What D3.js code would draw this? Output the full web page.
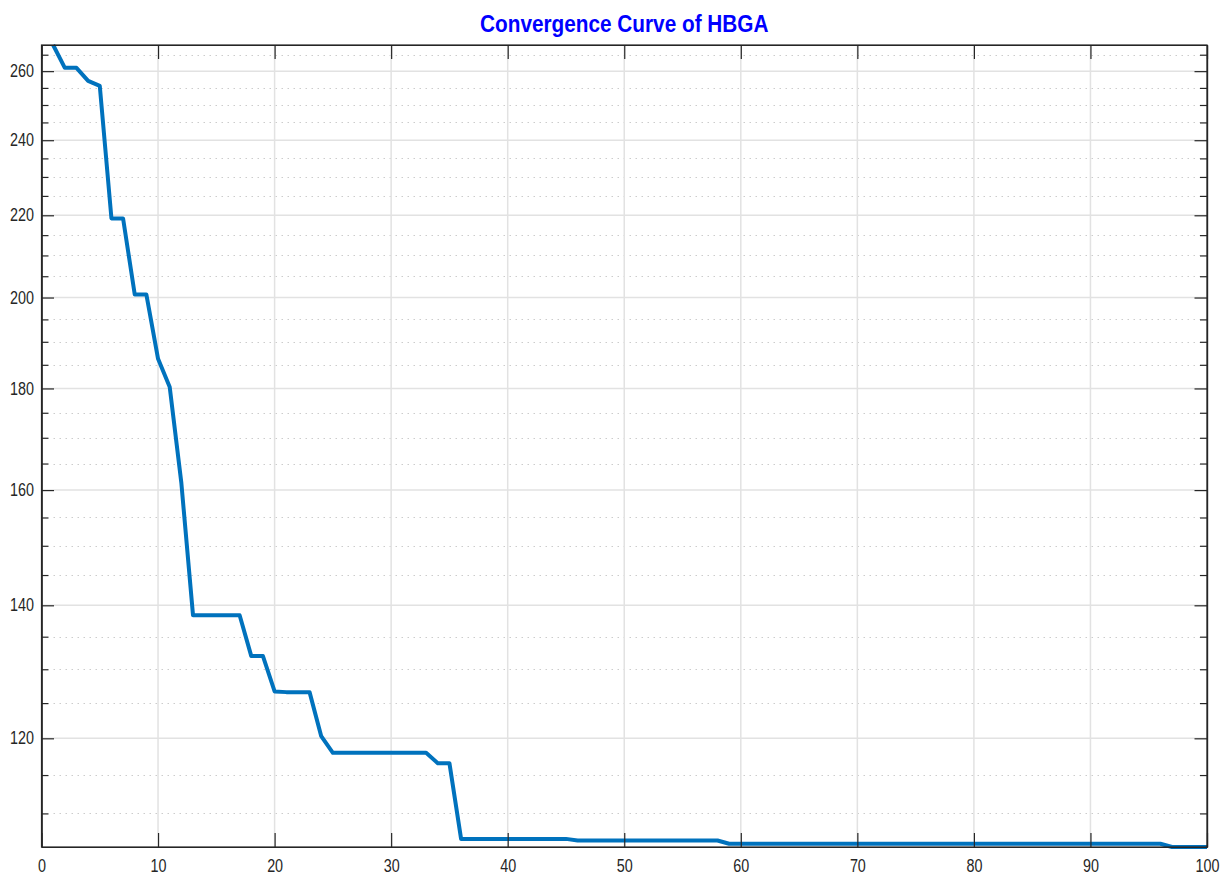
<!DOCTYPE html>
<html>
<head>
<meta charset="utf-8">
<script src="https://cdn.jsdelivr.net/npm/d3@7"></script>
<style>
  body { margin: 0; background: #fff; }
  text { font-family: "Liberation Sans", Arial, sans-serif; }
</style>
</head>
<body>
<svg id="chart" width="1232" height="879"></svg>
<script>
// best fitness per iteration
let iterations = [1,2,3,4,5,6,7,8,9,10,11,12,13,14,15,16,17,18,19,20,
    21,22,23,24,25,26,27,28,29,30,31,32,33,34,35,36,37,38,39,40,
    41,42,43,44,45,46,47,48,49,50,51,52,53,54,55,56,57,58,59,60,
    61,62,63,64,65,66,67,68,69,70,71,72,73,74,75,76,77,78,79,80,
    81,82,83,84,85,86,87,88,89,90,91,92,93,94,95,96,97,98,99,100];

let fitness = [268.0,261.0,261.0,257.1,255.6,219.2,219.2,200.7,200.7,186.3,
    180.3,161.3,138.4,138.4,138.4,138.4,138.4,132.0,132.0,126.7,
    126.6,126.6,126.6,120.3,118.0,118.0,118.0,118.0,118.0,118.0,
    118.0,118.0,118.0,116.6,116.6,106.8,106.8,106.8,106.8,106.8,
    106.8,106.8,106.8,106.8,106.8,106.6,106.6,106.6,106.6,106.6,
    106.6,106.6,106.6,106.6,106.6,106.6,106.6,106.6,106.2,106.2,
    106.2,106.2,106.2,106.2,106.2,106.2,106.2,106.2,106.2,106.2,
    106.2,106.2,106.2,106.2,106.2,106.2,106.2,106.2,106.2,106.2,
    106.2,106.2,106.2,106.2,106.2,106.2,106.2,106.2,106.2,106.2,
    106.2,106.2,106.2,106.2,106.2,106.2,105.8,105.8,105.8,105.8];

let xTicks = [0,10,20,30,40,50,60,70,80,90,100];
let yTicks = [120,140,160,180,200,220,240,260];
let yMinor = [110,115,125,130,135,145,150,155,165,170,175,185,190,195,
    205,210,215,225,230,235,245,250,255,265];

let title = 'Convergence Curve of HBGA';

var margin = { left: 41.5, right: 1207, top: 45, bottom: 847 };
var svg = d3.select('#chart');

var x = d3.scaleLinear().domain([0, 100]).range([margin.left, margin.right]);
var y = d3.scaleLog().domain([d3.min(fitness), d3.max(fitness)]).range([margin.bottom, margin.top]);

// grid
var grid = svg.append('g');
grid.selectAll('.minor').data(yMinor).enter().append('line')
    .attr('x1', margin.left + 12).attr('x2', margin.right - 7)
    .attr('y1', d => Math.round(y(d)) + 0.5).attr('y2', d => Math.round(y(d)) + 0.5)
    .attr('stroke', '#cccccc').attr('stroke-width', 1).attr('stroke-dasharray', '1.5,4.5');
grid.selectAll('.hmaj').data(yTicks).enter().append('line')
    .attr('x1', margin.left).attr('x2', margin.right)
    .attr('y1', d => y(d)).attr('y2', d => y(d))
    .attr('stroke', '#e2e2e2').attr('stroke-width', 1.5);
grid.selectAll('.vmaj').data(xTicks.slice(1, -1)).enter().append('line')
    .attr('y1', margin.top).attr('y2', margin.bottom)
    .attr('x1', d => x(d)).attr('x2', d => x(d))
    .attr('stroke', '#e2e2e2').attr('stroke-width', 1.5);

// curve
var line = d3.line().x((d, i) => x(iterations[i])).y(d => y(d));
svg.append('path').datum(fitness)
    .attr('d', line)
    .attr('fill', 'none')
    .attr('stroke', '#0072BD')
    .attr('stroke-width', 4)
    .attr('stroke-linejoin', 'round');

// axes (ticks inside, on all four sides)
var axCol = '#262626';
var xTickLen = 14, yTickLen = 12.5, yMinorLen = 7;

var axBottom = d3.axisBottom(x).tickValues(xTicks).tickSizeInner(-xTickLen).tickSizeOuter(0).tickPadding(13);
var axTop = d3.axisTop(x).tickValues(xTicks).tickSizeInner(-xTickLen).tickSizeOuter(0).tickFormat('');
var axLeft = d3.axisLeft(y).tickValues(yTicks).tickSizeInner(-yTickLen).tickSizeOuter(0).tickPadding(7.5).tickFormat(d3.format('d'));
var axRight = d3.axisRight(y).tickValues(yTicks).tickSizeInner(-yTickLen).tickSizeOuter(0).tickFormat('');
var axLeftMinor = d3.axisLeft(y).tickValues(yMinor).tickSizeInner(-yMinorLen).tickSizeOuter(0).tickFormat('');
var axRightMinor = d3.axisRight(y).tickValues(yMinor).tickSizeInner(-yMinorLen).tickSizeOuter(0).tickFormat('');

// squeeze text horizontally to look like the narrow font of the original
function narrow(sel, k) {
    sel.each(function() {
        var w = this.getComputedTextLength();
        if (w > 0) {
            d3.select(this).attr('textLength', w * k).attr('lengthAdjust', 'spacingAndGlyphs');
        }
    });
}

function styleAxis(g) {
    g.selectAll('path').attr('stroke', axCol).attr('stroke-width', 1.2);
    g.selectAll('line').attr('stroke', axCol).attr('stroke-width', 1.2);
    g.selectAll('text').attr('fill', axCol).style('font-size', '17.5px')
        .style('font-family', '"Liberation Sans", Arial, sans-serif')
        .call(narrow, 0.82);
}

svg.append('g').attr('transform', 'translate(0,' + margin.bottom + ')').call(axBottom).call(styleAxis);
svg.append('g').attr('transform', 'translate(0,' + margin.top + ')').call(axTop).call(styleAxis);
svg.append('g').attr('transform', 'translate(' + margin.left + ',0)').call(axLeft).call(styleAxis);
svg.append('g').attr('transform', 'translate(' + margin.right + ',0)').call(axRight).call(styleAxis);
svg.append('g').attr('transform', 'translate(' + margin.left + ',0)').call(axLeftMinor).call(styleAxis);
svg.append('g').attr('transform', 'translate(' + margin.right + ',0)').call(axRightMinor).call(styleAxis);

// box
svg.append('rect')
    .attr('x', margin.left).attr('y', margin.top)
    .attr('width', margin.right - margin.left).attr('height', margin.bottom - margin.top)
    .attr('fill', 'none').attr('stroke', axCol).attr('stroke-width', 1.2);

svg.append('text')
    .attr('x', (margin.left + margin.right) / 2).attr('y', 32)
    .attr('text-anchor', 'middle')
    .attr('fill', '#0000FF')
    .style('font-size', '24px').style('font-weight', 'bold')
    .text(title)
    .call(narrow, 0.865);
</script>
</body>
</html>
